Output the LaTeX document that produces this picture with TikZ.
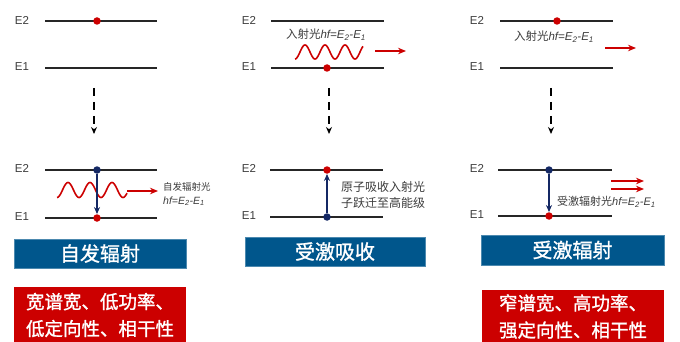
\documentclass[tikz,border=0pt]{standalone}
\usepackage{fontspec}
\setmainfont{Liberation Sans}
\newfontfamily\cjk{Noto Sans CJK SC}
\newfontfamily\cjkforte[FakeBold=1.2]{Noto Sans CJK SC}
\usetikzlibrary{arrows.meta, positioning}
\definecolor{azulcaixa}{RGB}{0,86,140}
\definecolor{vermelho}{RGB}{204,0,0}
\definecolor{azulponto}{RGB}{20,40,100}
\definecolor{cinzatexto}{RGB}{60,60,60}
\newcommand{\energia}{\textit{hf=E\textsubscript{2}-E\textsubscript{1}}}

\begin{document}
\begin{tikzpicture}[
        x=1pt, y=-1pt,
        rotulo/.style={text=cinzatexto, inner sep=0pt, font=\fontsize{11.5}{13}\selectfont},
        nivel/.style={draw=black!85, line width=1.6pt},
        eletron/.style={circle, fill=vermelho, inner sep=0pt, minimum size=7.5pt},
        lacuna/.style={circle, fill=azulponto, inner sep=0pt, minimum size=7.5pt},
        legenda/.style={text=cinzatexto, inner sep=0pt, anchor=west, align=left, font=\fontsize{10.5}{14}\selectfont},
        titulo/.style={rectangle, fill=azulcaixa, draw=azulcaixa!70, text=white, font=\cjkforte\fontsize{20}{22}\selectfont},
        propriedade/.style={rectangle, fill=vermelho, text=white, align=center, font=\cjkforte\fontsize{18.5}{27}\selectfont},
        conector/.style={-{Stealth[length=7pt, width=6pt]}, line width=1.3pt},
        transicao/.style={-{Stealth[length=7pt, width=6pt]}, azulponto, line width=1.3pt},
        raio/.style={-{Stealth[length=8pt, width=6.5pt]}, vermelho, line width=1.4pt},
        onda/.style={vermelho, line width=1.6pt}
    ]
    \useasboundingbox (0,0) rectangle (680,342);

    % --- COLUNA 1: EMISSAO ESPONTANEA ---
    \node[rotulo] (e2a) at (22,20) {E2};
    \node[rotulo] (e1a) at (22,67) {E1};
    \draw[nivel] (45,21) -- (157,21);
    \draw[nivel] (45,68) -- (157,68);
    \node[eletron] (pa) at (97,21) {};
    \coordinate (da1) at (94,88);
    \coordinate (da2) at (94,134);
    \draw[conector, dashed, dash pattern=on 8pt off 6pt] (da1) -- (da2);

    \node[rotulo] (e2b) at (22,168) {E2};
    \node[rotulo] (e1b) at (22,217) {E1};
    \draw[nivel] (45,170) -- (157,170);
    \draw[nivel] (45,218) -- (157,218);
    \draw[onda] plot[domain=0:70, samples=120] ({57+\x},{190+7.5*cos(\x*16.3636)});
    \node[lacuna] (pb) at (97,170) {};
    \node[eletron] (pc) at (97,218) {};
    \draw[transicao] (pb) -- (pc.north);
    \coordinate (ra1) at (127,191);
    \coordinate (ra2) at (158,191);
    \draw[raio] (ra1) -- (ra2);
    \node[legenda] (txa) at (163,194) {{\cjk\fontsize{9.5}{11}\selectfont 自发辐射光}\\\energia};

    \node[titulo, minimum width=172pt, minimum height=29pt] (tita) at (100,253.5) {自发辐射};
    \node[propriedade, minimum width=172pt, minimum height=56pt] (propa) at (100,315) {宽谱宽、低功率、\\低定向性、相干性};

    % --- COLUNA 2: ABSORCAO ESTIMULADA ---
    \node[rotulo] (e2c) at (249,20) {E2};
    \node[rotulo] (e1c) at (249,67) {E1};
    \draw[nivel] (271,21) -- (384,21);
    \draw[nivel] (271,68) -- (384,68);
    \node[rotulo, font=\fontsize{11.5}{13}\selectfont] (txb) at (326,35) {{\cjk 入射光}\energia};
    \draw[onda] plot[domain=0:68, samples=120] ({295+\x},{52+7*cos(\x*18)});
    \node[eletron] (pd) at (327,68) {};
    \coordinate (rb1) at (375,51);
    \coordinate (rb2) at (406,51);
    \draw[raio] (rb1) -- (rb2);
    \coordinate (db1) at (329,88);
    \coordinate (db2) at (329,134);
    \draw[conector, dashed, dash pattern=on 8pt off 6pt] (db1) -- (db2);

    \node[rotulo] (e2d) at (249,168) {E2};
    \node[rotulo] (e1d) at (249,216) {E1};
    \draw[nivel] (270,170) -- (383,170);
    \draw[nivel] (270,217) -- (383,217);
    \node[eletron] (pe) at (327,170) {};
    \node[lacuna] (pf) at (327,217) {};
    \draw[transicao] (pf) -- (pe.south);
    \node[legenda, font=\cjk\fontsize{12}{16}\selectfont] (txc) at (341,195) {原子吸收入射光\\子跃迁至高能级};

    \node[titulo, minimum width=180pt, minimum height=29pt] (titb) at (335,251.5) {受激吸收};

    % --- COLUNA 3: EMISSAO ESTIMULADA ---
    \node[rotulo] (e2e) at (477,20) {E2};
    \node[rotulo] (e1e) at (477,67) {E1};
    \draw[nivel] (500,21) -- (613,21);
    \draw[nivel] (500,68) -- (613,68);
    \node[eletron] (pg) at (557,21) {};
    \node[rotulo, font=\fontsize{11.5}{13}\selectfont] (txd) at (554,37) {{\cjk 入射光}\energia};
    \coordinate (rc1) at (605,48);
    \coordinate (rc2) at (636,48);
    \draw[raio] (rc1) -- (rc2);
    \coordinate (dc1) at (551,88);
    \coordinate (dc2) at (551,134);
    \draw[conector, dashed, dash pattern=on 8pt off 6pt] (dc1) -- (dc2);

    \node[rotulo] (e2f) at (477,168) {E2};
    \node[rotulo] (e1f) at (477,215) {E1};
    \draw[nivel] (498,170) -- (612,170);
    \draw[nivel] (498,216) -- (612,216);
    \node[lacuna] (ph) at (549,170) {};
    \node[eletron] (pi) at (549,216) {};
    \draw[transicao] (ph) -- (pi.north);
    \coordinate (rd1) at (611,181);
    \coordinate (rd2) at (644,181);
    \coordinate (rd3) at (611,189);
    \coordinate (rd4) at (644,189);
    \draw[raio] (rd1) -- (rd2);
    \draw[raio] (rd3) -- (rd4);
    \node[legenda, font=\fontsize{11}{13}\selectfont] (txe) at (557,202) {{\cjk 受激辐射光}\energia};

    \node[titulo, minimum width=183pt, minimum height=30pt] (titc) at (572.5,250) {受激辐射};
    \node[propriedade, minimum width=182pt, minimum height=53pt] (propc) at (573,316.5) {窄谱宽、高功率、\\强定向性、相干性};

\end{tikzpicture}
\end{document}
